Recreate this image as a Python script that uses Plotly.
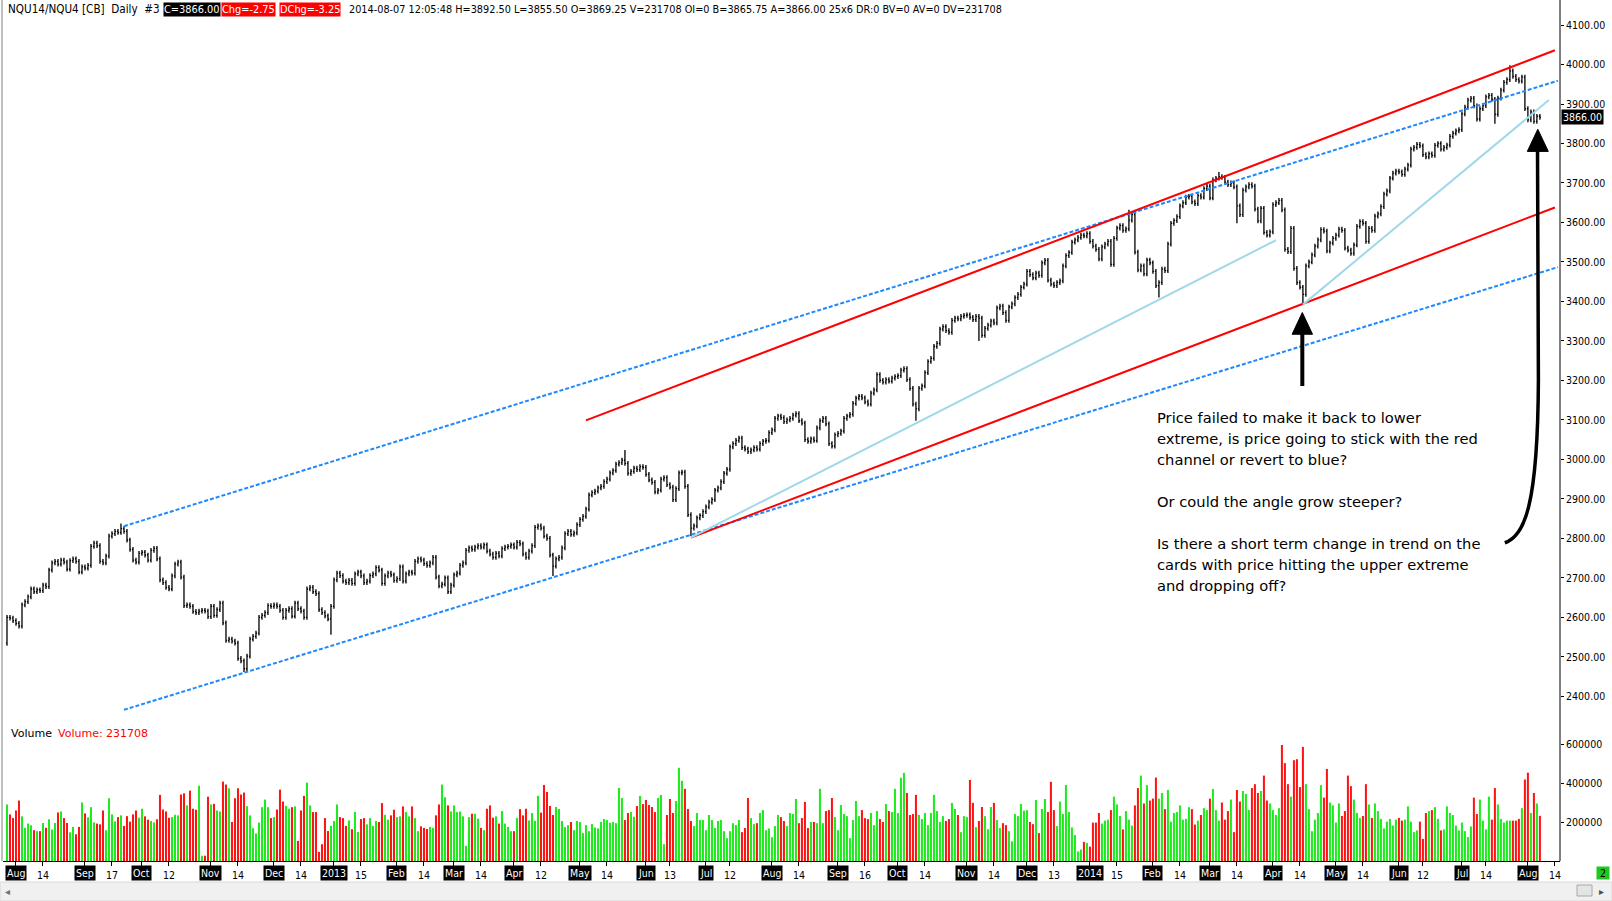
import pandas as pd
import plotly.graph_objects as go

# trading calendar of the chart (exchange holidays removed, Sandy days kept)
first_day = "2012-07-27"
holidays = ["2012-09-03", "2012-11-22", "2012-12-25", "2013-01-01", "2013-01-21",
            "2013-02-18", "2013-03-29", "2013-05-27", "2013-07-04", "2013-09-02",
            "2013-11-28", "2013-12-25", "2014-01-01", "2014-01-20", "2014-02-17",
            "2014-04-18", "2014-05-26", "2014-07-04"]

# daily closes (NQ, points)
close_2012 = [2600, 2598, 2592,
              2585, 2578, 2632, 2640, 2652, 2672, 2665, 2670, 2668, 2682, 2678, 2720, 2738, 2742, 2735, 2745, 2740, 2722, 2744, 2748, 2742, 2715, 2728,
              2725, 2732, 2780, 2788, 2782, 2742, 2738, 2755, 2806, 2812, 2818, 2815, 2825, 2818, 2796, 2772, 2745, 2740, 2762,
              2765, 2758, 2745, 2770, 2775, 2748, 2695, 2688, 2676, 2672, 2705, 2735, 2740, 2702, 2630, 2632, 2628, 2615, 2612, 2616, 2618, 2616, 2602,
              2628, 2605, 2620, 2636, 2586, 2542, 2545, 2540, 2535, 2496, 2490, 2470, 2502, 2545, 2552, 2560, 2600, 2605, 2612, 2630, 2628,
              2632, 2628, 2618, 2600, 2618, 2622, 2603, 2636, 2622, 2616, 2600, 2672, 2676, 2665, 2660, 2620, 2612, 2604, 2596, 2628]
close_2013 = [2695, 2712, 2706, 2692, 2688, 2694, 2686, 2710, 2715, 2705, 2688, 2692, 2706, 2710, 2726, 2720, 2686, 2705, 2712, 2708, 2694,
              2698, 2728, 2692, 2710, 2715, 2712, 2742, 2748, 2745, 2736, 2732, 2738, 2752, 2702, 2680, 2684, 2700, 2665, 2682,
              2708, 2712, 2732, 2738, 2770, 2776, 2772, 2778, 2782, 2778, 2784, 2768, 2760, 2752, 2762, 2756, 2774, 2778, 2780, 2784,
              2778, 2790, 2786, 2760, 2752, 2768, 2782, 2828, 2832, 2826, 2806, 2800, 2758, 2730, 2748, 2752, 2776, 2812, 2818, 2810, 2814, 2835,
              2848, 2856, 2874, 2910, 2916, 2920, 2928, 2932, 2944, 2950, 2966, 2972, 2988, 2992, 2998, 2990, 2965, 2970, 2978, 2974, 2982, 2980,
              2962, 2948, 2942, 2918, 2922, 2950, 2954, 2936, 2930, 2898, 2926, 2966, 2968, 2932, 2860, 2826, 2832, 2852, 2858, 2868,
              2880, 2892, 2898, 2922, 2928, 2944, 2965, 2975, 3032, 3040, 3048, 3054, 3030, 3026, 3020, 3024, 3030, 3026, 3040, 3046, 3048, 3068,
              3075, 3104, 3110, 3106, 3096, 3100, 3104, 3112, 3116, 3098, 3092, 3050, 3046, 3052, 3048, 3080, 3098, 3104, 3090, 3040, 3034, 3062,
              3066, 3072, 3104, 3110, 3114, 3142, 3155, 3160, 3156, 3146, 3140, 3168, 3176, 3215, 3200, 3196, 3202, 3198, 3206, 3210,
              3212, 3226, 3230, 3202, 3180, 3140, 3128, 3180, 3186, 3220, 3248, 3256, 3286, 3294, 3330, 3336, 3326, 3322, 3352, 3358, 3356, 3362, 3365,
              3366, 3360, 3354, 3362, 3358, 3314, 3332, 3340, 3350, 3346, 3384, 3388, 3372, 3352, 3386, 3394, 3410, 3418, 3436, 3444,
              3476, 3468, 3460, 3472, 3466, 3498, 3504, 3454, 3444, 3440, 3448, 3452, 3490, 3516, 3524, 3550, 3556, 3562, 3568, 3566, 3572]
close_2014 = [3552, 3540, 3532, 3508, 3538, 3545, 3552, 3494, 3560, 3586, 3592, 3580, 3584, 3606, 3620, 3525, 3480, 3490, 3470, 3505, 3498,
              3476, 3440, 3448, 3482, 3478, 3545, 3598, 3605, 3615, 3642, 3650, 3664, 3666, 3652, 3648, 3668, 3664, 3686, 3692,
              3662, 3708, 3712, 3716, 3714, 3702, 3696, 3700, 3690, 3642, 3620, 3682, 3690, 3696, 3692, 3634, 3604, 3636, 3575, 3568, 3576,
              3645, 3650, 3656, 3632, 3532, 3526, 3585, 3484, 3448, 3436, 3418, 3490, 3500, 3518, 3540, 3556, 3582, 3578, 3528, 3548, 3560,
              3568, 3583, 3580, 3535, 3530, 3522, 3543, 3590, 3602, 3598, 3552, 3585, 3580, 3616, 3622, 3640, 3672, 3680, 3712, 3725, 3730,
              3728, 3722, 3735, 3745, 3786, 3790, 3798, 3794, 3772, 3766, 3774, 3770, 3795, 3800, 3786, 3790, 3796, 3818, 3826, 3832, 3835,
              3875, 3892, 3910, 3914, 3895, 3862, 3888, 3896, 3918, 3922, 3912, 3874, 3915, 3935, 3955, 3962, 3984, 3970, 3962, 3958, 3968, 3888,
              3860, 3880, 3856, 3869, 3866]
first_open = 2535

# day extremes that stick out of the bars
low_days = ["2012-07-27", "2012-11-16", "2012-12-31", "2013-04-18", "2013-06-24", "2013-10-09",
            "2013-11-07", "2014-02-05", "2014-03-14", "2014-04-15", "2014-07-17"]
low_values = [2528, 2462, 2556, 2705, 2806, 3098, 3300, 3410, 3598, 3395, 3850]
high_days = ["2012-09-20", "2013-05-22", "2014-01-22", "2014-03-06", "2014-07-24"]
high_values = [2838, 3024, 3632, 3728, 3998]

# daily volume, thousands of contracts
volume_2012 = [290, 239, 220, 259, 310, 229, 170, 192, 183, 158, 153, 153, 195, 170, 214, 161, 195, 249, 254, 220,
               195, 147, 175, 137, 175, 300, 244, 224, 276, 198, 192, 188, 259, 158, 322, 239, 203, 225, 234, 180,
               230, 202, 239, 259, 222, 268, 229, 212, 205, 198, 214, 339, 264, 254, 222, 225, 237, 234, 341, 347,
               285, 361, 268, 263, 386, 27, 27, 330, 290, 293, 259, 254, 407, 392, 373, 200, 322, 373, 341, 351,
               281, 234, 168, 141, 197, 276, 315, 276, 220, 225, 264, 366, 305, 283, 268, 276, 280, 103, 259, 334,
               402, 285, 251, 251, 47, 86, 220, 154, 180]
volume_2013 = [205, 290, 225, 220, 180, 208, 163, 251, 149, 215, 220, 188, 220, 180, 205, 200, 297, 237, 212, 234,
               263, 225, 229, 280, 251, 229, 280, 220, 153, 178, 170, 164, 175, 170, 234, 290, 392, 327, 285, 254,
               285, 251, 254, 229, 78, 225, 242, 242, 217, 170, 158, 268, 285, 222, 229, 192, 256, 192, 175, 153,
               153, 220, 266, 234, 268, 208, 246,
               206, 334, 248, 390, 354, 282, 236, 277, 267, 205, 174, 184, 200, 158, 205, 200, 143, 184, 153, 189,
               172, 167, 200, 215, 210, 196, 200, 194, 375, 323, 210, 246, 251, 227, 282, 334, 292, 313, 287, 277,
               251, 323, 339, 86, 236, 318, 246, 308, 478, 411, 370, 267, 205, 179, 246, 210, 210, 158, 236, 210,
               169, 205, 210, 153, 117, 153, 194, 184, 210, 148, 169, 323, 220, 189, 194, 246, 261, 158, 167, 122,
               179, 236, 225, 205, 179, 246, 241, 318, 194, 220, 303, 169, 200, 200, 194, 370, 194, 256, 261, 323,
               225, 158, 287, 241, 230, 117, 210, 308, 230, 261, 220, 215, 246, 184, 256, 215, 200, 292, 256, 251,
               370, 246, 427, 452, 349, 236, 241, 339, 236, 215, 246, 184, 246, 339, 256, 200, 230, 205, 215, 298,
               267, 236, 148, 230, 225, 416, 298, 174, 205, 277, 230, 163, 277, 298, 210, 169, 194, 184, 153, 101,
               241, 230, 292, 258, 261, 200, 189, 313, 143, 267, 318, 251, 406, 261, 179,
               305, 241, 390, 251, 172, 133, 49, 59, 98, 93]
volume_2014 = [74, 197, 197, 246, 192, 207, 212, 261, 330, 290, 231, 162, 256, 212, 182, 285, 374, 438, 295, 389,
               310, 320, 428, 320, 349, 266, 364, 202, 246, 251, 285, 212, 216, 276, 266, 187, 207, 236, 271, 261,
               320, 369, 261, 207, 300, 212, 256, 315, 148, 364, 305, 359, 344, 261, 374, 394, 349, 359, 438, 310,
               295, 261, 236, 271, 595, 502, 394, 330, 517, 522, 379, 585, 394, 266, 153, 212, 246, 389, 325, 472,
               300, 285, 197, 295, 231, 256, 438, 384, 315, 246, 221, 231, 394, 290, 221, 295, 256, 216, 167, 202,
               216, 182, 212, 221, 207, 212, 280, 202, 148, 157, 202, 113, 246, 256, 261, 276, 216, 157, 162, 280,
               246, 236, 182, 157, 197, 153, 123, 177, 325, 241, 315, 207, 162, 330, 212, 374, 290, 216, 197, 207,
               207, 207, 207, 216, 271, 418, 453, 246, 349, 295, 231.708]

# date axis labels
month_days = ["2012-08-01", "2012-09-04", "2012-10-01", "2012-11-01", "2012-12-03", "2013-01-02", "2013-02-01",
              "2013-03-01", "2013-04-01", "2013-05-01", "2013-06-03", "2013-07-01", "2013-08-01", "2013-09-03",
              "2013-10-01", "2013-11-01", "2013-12-02", "2014-01-02", "2014-02-03", "2014-03-03", "2014-04-01",
              "2014-05-01", "2014-06-02", "2014-07-01", "2014-08-01"]
month_names = ["Aug", "Sep", "Oct", "Nov", "Dec", "2013", "Feb", "Mar", "Apr", "May", "Jun", "Jul", "Aug", "Sep",
               "Oct", "Nov", "Dec", "2014", "Feb", "Mar", "Apr", "May", "Jun", "Jul", "Aug"]
mid_days = ["2012-08-14", "2012-09-17", "2012-10-12", "2012-11-14", "2012-12-14", "2013-01-15", "2013-02-14",
            "2013-03-14", "2013-04-12", "2013-05-14", "2013-06-13", "2013-07-12", "2013-08-14", "2013-09-16",
            "2013-10-14", "2013-11-14", "2013-12-13", "2014-01-15", "2014-02-14", "2014-03-14", "2014-04-14",
            "2014-05-14", "2014-06-12", "2014-07-14", "2014-08-14"]

# hand drawn lines: (start day, price, end day, price)
blue_channel = [("2012-09-21", 2831, "2014-08-15", 3959), ("2012-09-21", 2366, "2014-08-15", 3487)]
red_channel = [("2013-05-03", 3099, "2014-08-14", 4036), ("2013-06-24", 2802, "2014-08-14", 3638)]
light_lines = [("2013-06-24", 2802, "2014-04-02", 3555), ("2014-04-15", 3392, "2014-08-12", 3910)]

note_lines = ["Price failed to make it back to lower",
              "extreme, is price going to stick with the red",
              "channel or revert to blue?",
              "",
              "Or could the angle grow steeper?",
              "",
              "Is there a short term change in trend on the",
              "cards with price hitting the upper extreme",
              "and dropping off?"]

header_left = "NQU14/NQU4 [CB]  Daily  #3"
header_rest = ("2014-08-07 12:05:48 H=3892.50 L=3855.50 O=3869.25 V=231708 OI=0 B=3865.75 "
               "A=3866.00 25x6 DR:0 BV=0 AV=0 DV=231708")

# ---------------------------------------------------------------------------
closes = close_2012 + close_2013 + close_2014
volumes = [v * 1000 for v in volume_2012 + volume_2013 + volume_2014]

days = pd.bdate_range(first_day, "2014-08-29")
days = days[~days.isin(pd.to_datetime(holidays))]
n = len(closes)
assert len(volumes) == n, (len(volumes), n)
assert days[n - 1] == pd.Timestamp("2014-08-07"), days[n - 1]


def bar_no(day):
    return int(days.searchsorted(pd.Timestamp(day)))


xs = list(range(n))
opens = [first_open] + closes[:-1]
wick = 6
highs = [max(o, c) + wick for o, c in zip(opens, closes)]
lows = [min(o, c) - wick for o, c in zip(opens, closes)]
for d, v in zip(low_days, low_values):
    lows[bar_no(d)] = v
for d, v in zip(high_days, high_values):
    highs[bar_no(d)] = v
vol_colors = ["#1EEB1E" if c >= o else "#FF1414" for o, c in zip(opens, closes)]

# page geometry (pixels) -> paper
L, R, T, B = 3, 52, 17, 40
W, H = 1612, 901
PW, PH = W - L - R, H - T - B


def px_x(px):
    return (px - L) / PW


def px_y(py):
    return (H - B - py) / PH


NARROW = "DejaVu Sans Condensed, Liberation Sans Narrow, sans-serif"
SANS = "DejaVu Sans, Verdana, sans-serif"

fig = go.Figure()
fig.add_trace(go.Ohlc(
    x=xs, open=opens, high=highs, low=lows, close=closes,
    increasing=dict(line=dict(color="black", width=1.3)),
    decreasing=dict(line=dict(color="black", width=1.3)),
    tickwidth=0.35, xaxis="x", yaxis="y", showlegend=False, hoverinfo="skip"))
fig.add_trace(go.Bar(
    x=xs, y=volumes, width=0.68, marker=dict(color=vol_colors, line=dict(width=0)),
    xaxis="x", yaxis="y2", showlegend=False, hoverinfo="skip"))

shapes = []


def trend(lines, color, dash):
    for d0, p0, d1, p1 in lines:
        shapes.append(dict(type="line", xref="x", yref="y", x0=bar_no(d0), y0=p0, x1=bar_no(d1), y1=p1,
                           line=dict(color=color, width=2, dash=dash), layer="above"))


trend(blue_channel, "#1E88FF", "4px,2px")
trend(red_channel, "#FF0000", "solid")
trend(light_lines, "#A0D8EA", "solid")

# arrows
up_x = bar_no("2014-04-15") - 0.2
shapes.append(dict(type="line", xref="x", yref="y", x0=up_x, x1=up_x, y0=3186, y1=3325,
                   line=dict(color="black", width=4)))
shapes.append(dict(type="path", xref="x", yref="y", fillcolor="black", line=dict(color="black", width=1),
                   path=f"M {up_x - 3.4},3317 L {up_x + 3.4},3317 L {up_x},3372 Z"))
shapes.append(dict(type="path", xref="x", yref="y", line=dict(color="black", width=3.5),
                   path="M 499.3,2789 C 506,2806 510.3,2885 510.5,3201 L 510.2,3790"))
shapes.append(dict(type="path", xref="x", yref="y", fillcolor="black", line=dict(color="black", width=1),
                   path="M 506.8,3780 L 513.8,3780 L 510.3,3836 Z"))

# frame lines and bottom scroll strip
shapes.append(dict(type="line", xref="paper", yref="paper", x0=1, x1=1, y0=0, y1=px_y(0),
                   line=dict(color="black", width=1)))
shapes.append(dict(type="line", xref="paper", yref="paper", x0=px_x(2), x1=px_x(2), y0=0, y1=px_y(0),
                   line=dict(color="#808080", width=1)))
shapes.append(dict(type="rect", xref="paper", yref="paper", x0=px_x(0), x1=px_x(W), y0=px_y(882), y1=px_y(901),
                   fillcolor="#F0F0F0", line=dict(color="#D8D8D8", width=1), layer="below"))
shapes.append(dict(type="rect", xref="paper", yref="paper", x0=px_x(1577), x1=px_x(1592), y0=px_y(885),
                   y1=px_y(896), fillcolor="#E4E4E4", line=dict(color="#A8A8A8", width=1)))

ann = []


def note(text, px, py, size=11, color="black", bg=None, family=SANS, anchor="left"):
    d = dict(xref="paper", yref="paper", x=px_x(px), y=px_y(py), xanchor=anchor, yanchor="middle",
             text=text, showarrow=False, font=dict(family=family, size=size, color=color), borderpad=0)
    if bg:
        d["bgcolor"] = bg
    ann.append(d)


note(header_left, 7, 9.5, 11.6, family=NARROW)
note("C=3866.00", 163, 9.5, 10.9, "white", "black", NARROW)
note("Chg=-2.75", 221, 9.5, 10.9, "white", "#FF0000", NARROW)
note("DChg=-3.25", 279, 9.5, 10.9, "white", "#FF0000", NARROW)
note(header_rest, 348, 9.5, 10.8, family=NARROW)

note("Volume", 10, 733, 11)
note("Volume: 231708", 57, 733, 11, "#FF0000")

for i, line in enumerate(note_lines):
    if line:
        note(line, 1156, 417.5 + 21 * i, 14.7)

note("◂", 4, 891, 10, "#707070")
note("▸", 1598, 891, 10, "#505050")
note(" 2 ", 1603, 873, 10.5, "black", "#1EC81E", NARROW, anchor="center")

for d, name in zip(month_days, month_names):
    ann.append(dict(xref="x", yref="paper", x=bar_no(d), y=px_y(873), xanchor="center", yanchor="middle",
                    text=name, showarrow=False, bgcolor="black", borderpad=1,
                    font=dict(family=NARROW, size=10.5, color="white")))

ann.append(dict(xref="paper", yref="y", x=1, xshift=1, xanchor="left", y=closes[-1], yanchor="middle",
                text=f"{closes[-1]:.2f}", showarrow=False, bgcolor="black", borderpad=1,
                font=dict(family=NARROW, size=10.5, color="white")))

tickvals = [bar_no(d) for d in month_days] + [bar_no(d) for d in mid_days]
ticktext = [""] * len(month_days) + [str(pd.Timestamp(d).day) for d in mid_days]

price_ticks = list(range(2400, 4101, 100))
vol_ticks = [200000, 400000, 600000]

fig.update_layout(
    width=W, height=H, margin=dict(l=L, r=R, t=T, b=B, autoexpand=False),
    paper_bgcolor="white", plot_bgcolor="white",
    xaxis=dict(range=[-1.33, 517.7], anchor="y2", tickmode="array", tickvals=tickvals, ticktext=ticktext,
               ticks="outside", ticklen=4, tickcolor="black", showgrid=False, zeroline=False,
               showline=True, linecolor="black", linewidth=1, rangeslider=dict(visible=False),
               tickfont=dict(family=NARROW, size=10.5, color="black")),
    yaxis=dict(domain=[px_y(712), 1], range=[2360.5, 4120.3], side="right", tickmode="array",
               tickvals=price_ticks, ticktext=[f"{v:.2f}" for v in price_ticks], ticks="outside",
               ticklen=3, tickcolor="black", showgrid=False, zeroline=False, showline=False,
               tickfont=dict(family=NARROW, size=10.5, color="black")),
    yaxis2=dict(domain=[0, px_y(722)], range=[0, 712800], side="right", tickmode="array",
                tickvals=vol_ticks, ticktext=[str(v) for v in vol_ticks], ticks="outside",
                ticklen=3, tickcolor="black", showgrid=False, zeroline=False, showline=False,
                tickfont=dict(family=NARROW, size=10.5, color="black")),
    shapes=shapes, annotations=ann, bargap=0.3,
)

# the page body has a default 8px margin; drop it so the figure fills the window
fig.write_html("out.html", config={"displayModeBar": False},
               post_script="document.body.style.margin='0px';")
